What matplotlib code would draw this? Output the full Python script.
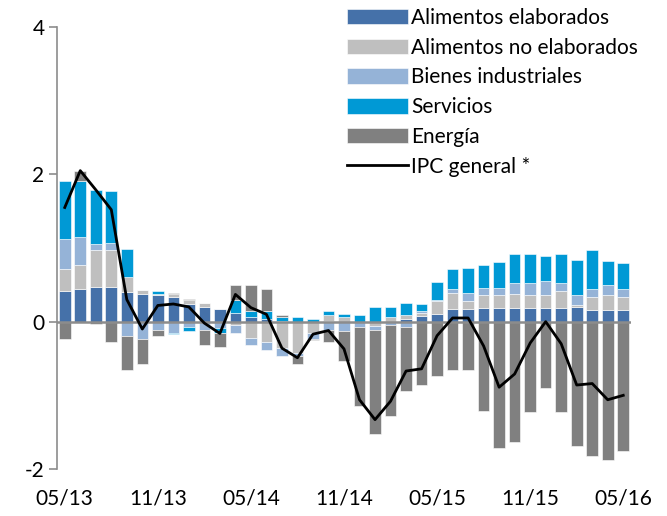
import numpy as np
import matplotlib
matplotlib.use("Agg")
import matplotlib.pyplot as plt

plt.rcParams['font.family'] = ['Lato', 'DejaVu Sans']

# meses 05/13 .. 05/16
labels = ["05/13", "11/13", "05/14", "11/14", "05/15", "11/15", "05/16"]

alim_elab = [0.41, 0.45, 0.47, 0.47, 0.40, 0.38, 0.36, 0.34, 0.24, 0.20,
             0.17, 0.12, 0.06, 0.03, 0.01, 0.00, 0.00, 0.01, 0.00, 0.00,
             0.00, 0.00, 0.03, 0.08, 0.11, 0.17, 0.17, 0.19, 0.19, 0.19,
             0.19, 0.19, 0.19, 0.20, 0.16, 0.16, 0.16]
alim_no_elab = [0.31, 0.32, 0.50, 0.50, 0.21, 0.05, 0.02, 0.03, 0.05, 0.05,
                0.00, -0.04, -0.22, -0.27, -0.36, -0.42, -0.15, 0.08, 0.06, 0.00,
                -0.06, 0.06, 0.06, 0.04, 0.17, 0.22, 0.11, 0.17, 0.17, 0.19,
                0.17, 0.17, 0.23, 0.03, 0.17, 0.20, 0.17]
bienes = [0.40, 0.38, 0.08, 0.10, -0.20, -0.23, -0.11, -0.15, -0.07, -0.11,
          -0.09, -0.11, -0.09, -0.12, -0.11, -0.05, -0.08, -0.11, -0.12, -0.07,
          -0.05, -0.04, -0.07, 0.02, 0.02, 0.05, 0.11, 0.10, 0.10, 0.14,
          0.16, 0.19, 0.10, 0.13, 0.11, 0.14, 0.11]
servicios = [0.79, 0.76, 0.74, 0.70, 0.38, 0.00, 0.03, -0.02, -0.05, 0.00,
             -0.07, 0.18, 0.08, 0.11, 0.06, 0.06, 0.04, 0.05, 0.05, 0.09,
             0.20, 0.14, 0.16, 0.10, 0.24, 0.27, 0.34, 0.31, 0.35, 0.40,
             0.40, 0.34, 0.40, 0.48, 0.53, 0.32, 0.35]
energia = [-0.23, 0.13, -0.03, -0.28, -0.46, -0.35, -0.09, 0.02, 0.02, -0.20,
           -0.19, 0.20, 0.36, 0.30, 0.02, -0.11, -0.02, -0.16, -0.41, -1.08,
           -1.42, -1.24, -0.87, -0.86, -0.74, -0.66, -0.66, -1.21, -1.72, -1.63,
           -1.23, -0.90, -1.23, -1.69, -1.83, -1.88, -1.75]
ipc = [1.55, 2.05, 1.79, 1.52, 0.30, -0.10, 0.22, 0.24, 0.20, -0.02,
       -0.16, 0.37, 0.19, 0.10, -0.36, -0.49, -0.17, -0.12, -0.37, -1.06,
       -1.33, -1.08, -0.67, -0.64, -0.19, 0.05, 0.05, -0.33, -0.89, -0.71,
       -0.29, 0.00, -0.30, -0.86, -0.84, -1.06, -1.00]

series = [
    ("Alimentos elaborados", alim_elab, "#4571A9"),
    ("Alimentos no elaborados", alim_no_elab, "#BFBFBF"),
    ("Bienes industriales", bienes, "#95B3D7"),
    ("Servicios", servicios, "#0099D5"),
    ("Energía", energia, "#808080"),
]

x = np.arange(len(ipc))

fig = plt.figure(figsize=(6.67, 5.16), dpi=100)
ax = fig.add_axes([57 / 667, 47 / 516, 574 / 667, 442 / 516])

pos = np.zeros(len(x))
neg = np.zeros(len(x))
handles = []
for name, vals, col in series:
    v = np.array(vals)
    bottom = np.where(v >= 0, pos, neg)
    b = ax.bar(x, v, 0.75, bottom=bottom, color=col, label=name,
               edgecolor="white", linewidth=0.4)
    handles.append(b)
    pos = pos + np.where(v >= 0, v, 0)
    neg = neg + np.where(v < 0, v, 0)

ax.axhline(0, color="#8C8C8C", lw=1.8, zorder=1.5)
ln, = ax.plot(x, ipc, color="black", lw=2, label="IPC general *", zorder=3)
handles.append(ln)

ax.set_xlim(-0.5, len(x) - 0.5)
ax.set_ylim(-2, 4)
ax.set_yticks([-2, 0, 2, 4])
ax.set_yticklabels(["-2", "0", "2", "4"], fontsize=15)
ax.set_xticks(np.arange(0, len(x), 6))
ax.set_xticklabels(labels, fontsize=15)
ax.tick_params(axis="x", length=0, pad=14)
ax.tick_params(axis="y", direction="out", length=6, color="#8C8C8C", width=1.2, pad=3)

for s in ["top", "right", "bottom"]:
    ax.spines[s].set_visible(False)
ax.spines["left"].set_color("#8C8C8C")
ax.spines["left"].set_linewidth(1.2)

ax.legend(handles=handles, loc="upper left", bbox_to_anchor=(341 / 667, 0.997),
          bbox_transform=fig.transFigure, frameon=False, fontsize=15,
          handlelength=2.9, handleheight=0.75, handletextpad=0.15,
          labelspacing=0.47, borderpad=0.2, borderaxespad=0.1)

fig.savefig("out.png", dpi=100)
